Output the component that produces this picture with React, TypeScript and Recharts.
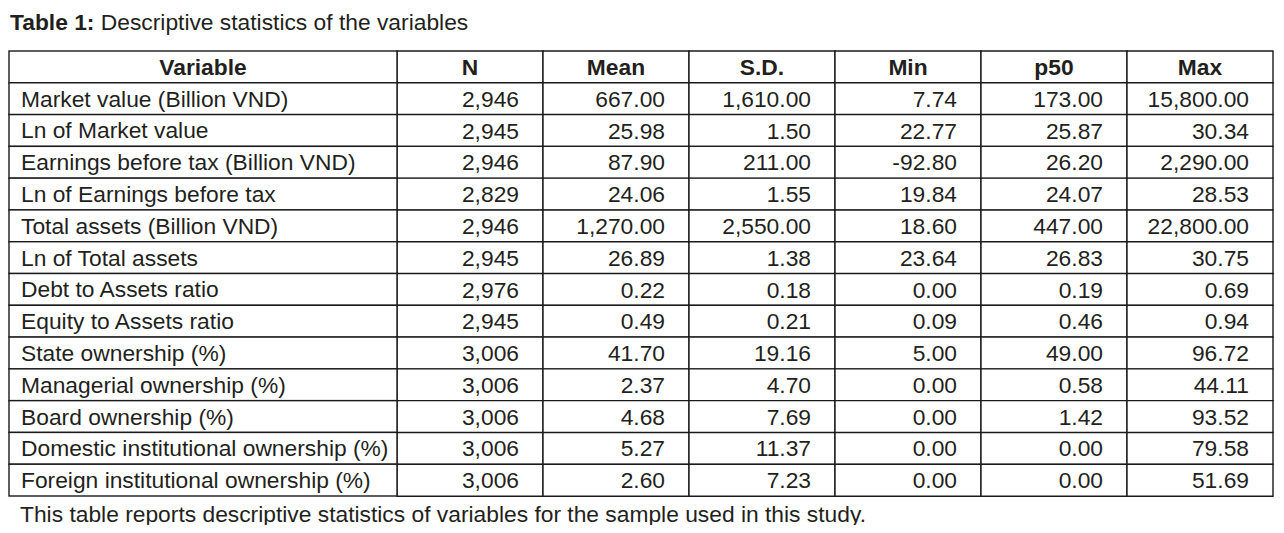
import { BarChart, Bar, XAxis, YAxis, LabelList } from "recharts";

const HEADERS = ["Variable", "N", "Mean", "S.D.", "Min", "p50", "Max"];

const VARIABLES = [
  "Market value (Billion VND)",
  "Ln of Market value",
  "Earnings before tax (Billion VND)",
  "Ln of Earnings before tax",
  "Total assets (Billion VND)",
  "Ln of Total assets",
  "Debt to Assets ratio",
  "Equity to Assets ratio",
  "State ownership (%)",
  "Managerial ownership (%)",
  "Board ownership (%)",
  "Domestic institutional ownership (%)",
  "Foreign institutional ownership (%)",
];

const N_OBS = [2946, 2945, 2946, 2829, 2946, 2945, 2976, 2945, 3006, 3006, 3006, 3006, 3006];
const MEAN = [667.0, 25.98, 87.9, 24.06, 1270.0, 26.89, 0.22, 0.49, 41.7, 2.37, 4.68, 5.27, 2.6];
const SD = [1610.0, 1.5, 211.0, 1.55, 2550.0, 1.38, 0.18, 0.21, 19.16, 4.7, 7.69, 11.37, 7.23];
const MIN = [7.74, 22.77, -92.8, 19.84, 18.6, 23.64, 0.0, 0.09, 5.0, 0.0, 0.0, 0.0, 0.0];
const P50 = [173.0, 25.87, 26.2, 24.07, 447.0, 26.83, 0.19, 0.46, 49.0, 0.58, 1.42, 0.0, 0.0];
const MAX = [15800.0, 30.34, 2290.0, 28.53, 22800.0, 30.75, 0.69, 0.94, 96.72, 44.11, 93.52, 79.58, 51.69];

const withCommas = (s: string) => s.replace(/\B(?=(\d{3})+(?!\d))/g, ",");
const fmtInt = (v: number) => withCommas(String(Math.round(v)));
const fmtDec = (v: number) => {
  const [a, b] = v.toFixed(2).split(".");
  return `${withCommas(a)}.${b}`;
};

const COLS = [
  { key: "n", values: N_OBS, fmt: fmtInt },
  { key: "mean", values: MEAN, fmt: fmtDec },
  { key: "sd", values: SD, fmt: fmtDec },
  { key: "min", values: MIN, fmt: fmtDec },
  { key: "p50", values: P50, fmt: fmtDec },
  { key: "max", values: MAX, fmt: fmtDec },
];

// every numeric cell is a stacked segment of width 1; the text rides on a LabelList
const rows = [
  Object.fromEntries([
    ["name", HEADERS[0]],
    ...COLS.flatMap((c, j) => [[c.key, 1], [`t_${c.key}`, HEADERS[j + 1]]]),
  ]),
  ...VARIABLES.map((name, i) =>
    Object.fromEntries([
      ["name", name],
      ...COLS.flatMap((c) => [[c.key, 1], [`t_${c.key}`, c.fmt(c.values[i])]]),
    ])
  ),
];

const W = 1268;
const H = 449;
const MARGIN = { top: 2, right: 3, bottom: 2, left: 1 };
const LABEL_W = 388;
const ROW_H = (H - MARGIN.top - MARGIN.bottom) / rows.length;
const INK = "#231f20";
const LINE = "#1a1a1a";
const FONT = "'Liberation Sans', Arial, Helvetica, sans-serif";
const FS = 22.8;

function VariableTick(props: any) {
  const { y, payload, index } = props;
  const header = index === 0;
  return (
    <g>
      <rect
        x={MARGIN.left}
        y={y - ROW_H / 2}
        width={LABEL_W}
        height={ROW_H}
        fill="#fff"
        stroke={LINE}
        strokeWidth={1.4}
      />
      <text
        x={header ? MARGIN.left + LABEL_W / 2 : MARGIN.left + 12}
        y={y + 8}
        textAnchor={header ? "middle" : "start"}
        fontFamily={FONT}
        fontSize={FS}
        fontWeight={header ? 700 : 400}
        fill={INK}
      >
        {payload.value}
      </text>
    </g>
  );
}

function CellText(props: any) {
  const { x, y, width, height, value, index } = props;
  const header = index === 0;
  return (
    <text
      x={header ? x + width / 2 : x + width - 24}
      y={y + height / 2 + 8}
      textAnchor={header ? "middle" : "end"}
      fontFamily={FONT}
      fontSize={FS}
      fontWeight={header ? 700 : 400}
      fill={INK}
    >
      {value}
    </text>
  );
}

export default function App() {
  return (
    <div style={{ position: "relative", width: 1268, height: 517, fontFamily: FONT, color: INK }}>
      <div
        style={{ position: "absolute", left: 2, top: 3, fontSize: FS, lineHeight: `${FS}px`, whiteSpace: "nowrap" }}
      >
        <b>Table 1:</b> Descriptive statistics of the variables
      </div>
      <div style={{ position: "absolute", left: 0, top: 41 }}>
        <BarChart
          width={W}
          height={H}
          data={rows}
          layout="vertical"
          margin={MARGIN}
          barCategoryGap={0}
          barGap={0}
        >
          <XAxis type="number" domain={[0, COLS.length]} hide />
          <YAxis
            type="category"
            dataKey="name"
            width={LABEL_W}
            axisLine={false}
            tickLine={false}
            interval={0}
            tick={<VariableTick />}
          />
          {COLS.map((c) => (
            <Bar
              key={c.key}
              dataKey={c.key}
              stackId="cells"
              fill="#fff"
              stroke={LINE}
              strokeWidth={1.4}
              isAnimationActive={false}
            >
              <LabelList dataKey={`t_${c.key}`} content={<CellText />} />
            </Bar>
          ))}
        </BarChart>
      </div>
      <div
        style={{ position: "absolute", left: 12, top: 495, fontSize: FS, lineHeight: `${FS}px`, whiteSpace: "nowrap" }}
      >
        This table reports descriptive statistics of variables for the sample used in this study.
      </div>
    </div>
  );
}
